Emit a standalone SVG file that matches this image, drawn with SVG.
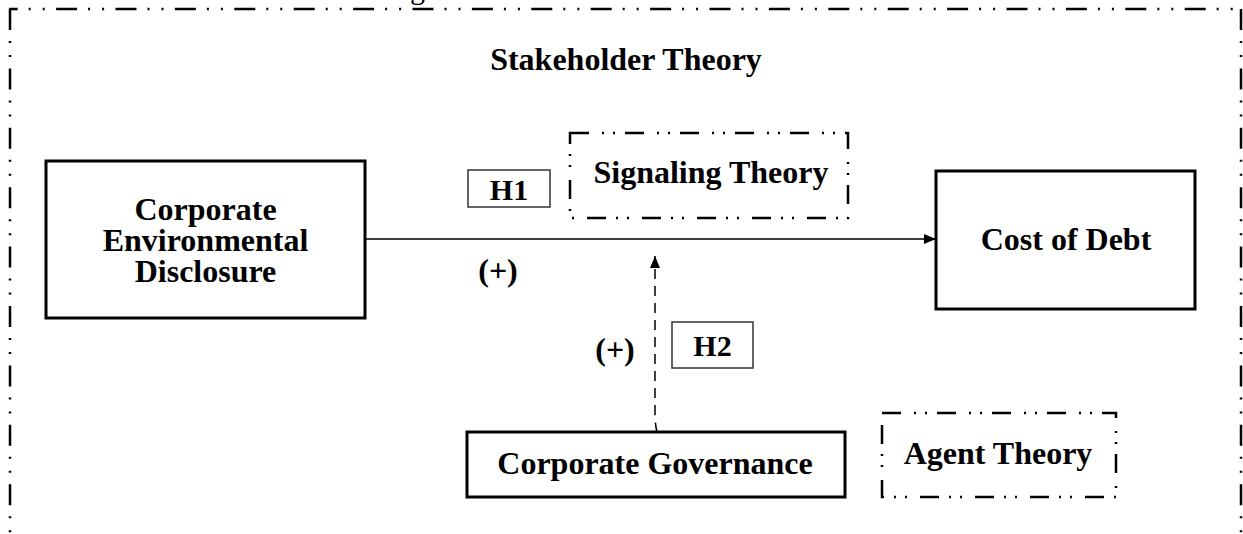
<svg xmlns="http://www.w3.org/2000/svg" width="1243" height="534" viewBox="0 0 1243 534">
  <defs>
    <style>
      text { font-family: "Liberation Serif", "Times New Roman", serif; fill: #000; }
      .lbl { font-size: 32px; font-weight: bold; text-anchor: middle; }
      .hyp { font-size: 30px; font-weight: bold; text-anchor: middle; }
      .box { fill: #fff; stroke: #000; stroke-width: 3; }
      .hbox { fill: #fff; stroke: #333; stroke-width: 1.5; }
      .outer { fill: none; stroke: #000; stroke-width: 2.5; stroke-dasharray: 21 11 2 12 2 11.4; }
      .theory { fill: #fff; stroke: #000; stroke-width: 2.5; stroke-dasharray: 19 13 2 9 2 10; }
      .conn { fill: none; stroke: #000; stroke-width: 1.5; }
    </style>
    <marker id="ah" viewBox="0 0 12 10" refX="12" refY="5" markerWidth="12" markerHeight="10" markerUnits="userSpaceOnUse" orient="auto">
      <path d="M0,0 L12,5 L0,10 Z" fill="#000"/>
    </marker>
  </defs>

  <rect width="1243" height="534" fill="#fff"/>

  <!-- partially visible caption glyph -->
  <text x="410" y="-1" style="font-size:30px">g</text>

  <!-- outer frame: Stakeholder Theory -->
  <g id="stakeholder-theory">
    <line class="outer" x1="9" y1="9" x2="1242" y2="9" stroke-dashoffset="12.3"/>
    <line class="outer" x1="10" y1="9" x2="10" y2="545"/>
    <line class="outer" x1="1241" y1="9" x2="1241" y2="545"/>
    <text class="lbl" x="626" y="70">Stakeholder Theory</text>
  </g>

  <g id="connectors">
    <line class="conn" x1="365" y1="239" x2="936" y2="239" marker-end="url(#ah)"/>
    <path class="conn" d="M657,432 Q655,424 655,414 L655,256" stroke-dasharray="10 7" marker-end="url(#ah)"/>
  </g>

  <g id="ced">
    <rect class="box" x="46" y="161" width="319" height="157"/>
    <text class="lbl" x="205.5" y="220">Corporate</text>
    <text class="lbl" x="205.5" y="251">Environmental</text>
    <text class="lbl" x="205.5" y="282">Disclosure</text>
  </g>

  <g id="cost-of-debt">
    <rect class="box" x="936" y="171" width="259" height="138"/>
    <text class="lbl" x="1066" y="250">Cost of Debt</text>
  </g>

  <g id="corporate-governance">
    <rect class="box" x="467" y="432" width="378" height="65"/>
    <text class="lbl" x="655" y="474">Corporate Governance</text>
  </g>

  <g id="signaling-theory">
    <rect class="theory" x="570" y="133" width="278" height="85"/>
    <text class="lbl" x="711" y="183">Signaling Theory</text>
  </g>

  <g id="agent-theory">
    <rect class="theory" x="882" y="413" width="234" height="84"/>
    <text class="lbl" x="998" y="464">Agent Theory</text>
  </g>

  <g id="h1">
    <rect class="hbox" x="468" y="170" width="82" height="37"/>
    <text class="hyp" x="509" y="200">H1</text>
  </g>

  <g id="h2">
    <rect class="hbox" x="672" y="322" width="81" height="46"/>
    <text class="hyp" x="712.5" y="356">H2</text>
  </g>

  <g id="signs">
    <text class="lbl" x="498" y="281">(+)</text>
    <text class="lbl" x="615" y="360">(+)</text>
  </g>
</svg>
